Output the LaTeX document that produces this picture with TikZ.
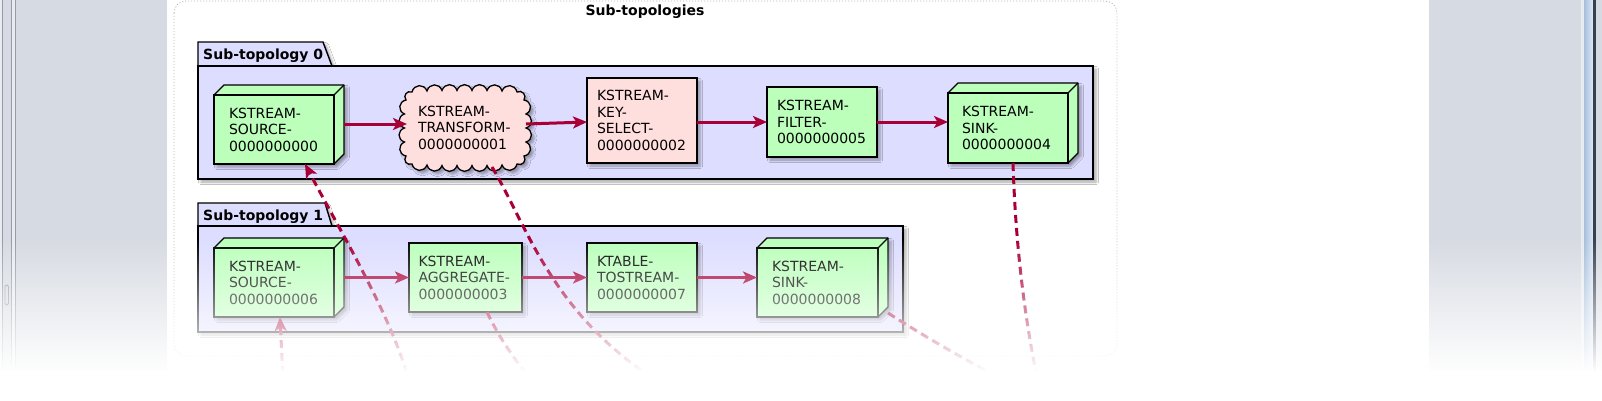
\documentclass[tikz,border=0pt]{standalone}
\usepackage{fontspec}
\setmainfont{DejaVu Sans}
\usetikzlibrary{arrows.meta,shadows.blur,fadings}

\definecolor{pkgfill}{RGB}{221,221,255}
\definecolor{nodegreen}{RGB}{187,255,187}
\definecolor{nodepink}{RGB}{255,222,222}
\definecolor{arrowred}{HTML}{A80036}
\definecolor{panelgray}{RGB}{214,218,226}
\definecolor{panelline}{RGB}{150,155,165}
\definecolor{panellight}{RGB}{232,235,240}
\definecolor{stripblueA}{RGB}{165,190,218}
\definecolor{stripblueB}{RGB}{222,234,247}
\definecolor{stripdark}{RGB}{55,65,80}
\definecolor{framegray}{RGB}{185,185,185}

\tikzfading[name=myfade, top color=transparent!100, middle color=transparent!30, bottom color=transparent!0]

\tikzset{
  myshadow/.style={blur shadow={shadow xshift=3pt, shadow yshift=-3pt, shadow blur radius=2.5pt, shadow opacity=35}},
  lbl/.style={font=\fontsize{14}{16.5}\selectfont, align=left, inner ysep=0pt, outer sep=0pt},
  greenrect/.style={lbl, draw=black, line width=1.3pt, fill=nodegreen, myshadow},
  pinkrect/.style={lbl, draw=black, line width=1.3pt, fill=nodepink, myshadow},
  frontface/.style={lbl, draw=black, line width=1.3pt, fill=nodegreen},
  face3d/.style={draw=black, line width=1.3pt, fill=nodegreen, line join=round, myshadow},
  cloudface/.style={draw=black, line width=1.3pt, fill=nodepink, myshadow},
  cbump/.style={bend left=72, looseness=1.4},
  pkgbox/.style={draw=black, line width=1.4pt, fill=pkgfill, myshadow},
  tabtext/.style={font=\bfseries\fontsize{14}{16}\selectfont, inner sep=0pt, anchor=base west},
  flow/.style={draw=arrowred, line width=3pt, -{Stealth[length=14pt,width=12pt,inset=3.5pt]}},
  dflow/.style={draw=arrowred, line width=3pt, dash pattern=on 8pt off 5pt},
  dflowin/.style={dflow, -{Stealth[length=14pt,width=12pt,inset=3.5pt]}},
  outerframe/.style={draw=framegray, line width=0.9pt, dash pattern=on 1pt off 2pt, rounded corners=12pt},
}
% back faces of a 3D box whose front face is (#1,#2)-(#3,#4), y downwards
\newcommand{\cubeback}[4]{%
  \path[face3d] (#1,#2) -- (#1+10,#2-10) -- (#3+10,#2-10) -- (#3+10,#4-10) -- (#3,#4) -- (#1,#4) -- cycle;}

\begin{document}
\begin{tikzpicture}[x=1pt,y=-1pt]
\useasboundingbox (0,0) rectangle (1602,400);

% ---------- background panels ----------
\fill[white] (0,0) rectangle (1602,400);
\fill[panelgray] (0,0) rectangle (167,400);
\fill[panellight] (0,0) rectangle (2,400);
\fill[panellight] (12,0) rectangle (15,400);
\draw[panelline, line width=1pt] (2.5,0) -- (2.5,400);
\draw[panelline, line width=1pt] (11.5,0) -- (11.5,400);
\draw[panelline, line width=1pt] (15.5,0) -- (15.5,400);
\draw[panelline, line width=0.8pt, rounded corners=1.5pt] (5,285) rectangle (8.5,305);
\fill[panelgray] (1429,0) rectangle (1602,400);
\fill[panellight] (1581,0) rectangle (1584,400);
\shade[left color=stripblueA, right color=stripblueB] (1584,0) rectangle (1593,400);
\fill[stripdark] (1593,0) rectangle (1595.5,400);

% ---------- outer frame and packages ----------
\path[outerframe] (174,1) rectangle (1117,356);
\path[pkgbox] (198,42) -- (323,42) -- (332,66) -- (198,66) -- cycle;
\path[pkgbox] (198,66) rectangle (1093,179);
\path[pkgbox] (198,203) -- (325,203) -- (332,226) -- (198,226) -- cycle;
\path[pkgbox] (198,226) rectangle (903,332);

\node[font=\bfseries\fontsize{14}{16}\selectfont, inner sep=0pt, anchor=base] (title) at (645,15) {Sub-topologies};
\node[tabtext] (p0) at (203,59) {Sub-topology 0};
\node[tabtext] (p1) at (203,220) {Sub-topology 1};

% ---------- back faces of 3D boxes, cloud ----------
\cubeback{214}{95}{334}{164}
\cubeback{948}{93}{1068}{163}
\cubeback{214}{248}{334}{317}
\cubeback{757}{248}{878}{317}
\path[cloudface] (412,92)
  \foreach \x/\y in {427/91, 442/90.5, 457/90.5, 472/90.5, 487/90.5, 502/91, 517/92,
                     524/100, 526/114, 526/128, 526/142, 524/156,
                     517/164, 502/165, 487/165.5, 472/165.5, 457/165.5, 442/165.5, 427/165, 412/164,
                     406/156, 404.5/142, 404.5/128, 404.5/114, 406/100, 412/92} { to[cbump] (\x,\y) } -- cycle;

% ---------- sub-topology 0 nodes ----------
\node[frontface, minimum width=120pt, minimum height=69pt, text width=90pt, inner xsep=15pt] (s0) at (274,129.5) {KSTREAM-\\SOURCE-\\0000000000};
\node[lbl, minimum width=121pt, minimum height=75pt, text width=95pt, inner xsep=13pt] (t1) at (465.5,127.5) {KSTREAM-\\TRANSFORM-\\0000000001};
\node[pinkrect, minimum width=110pt, minimum height=85pt, text width=90pt, inner xsep=10pt] (k2) at (642,120.5) {KSTREAM-\\KEY-\\SELECT-\\0000000002};
\node[greenrect, minimum width=110pt, minimum height=70pt, text width=90pt, inner xsep=10pt] (f5) at (822,122) {KSTREAM-\\FILTER-\\0000000005};
\node[frontface, minimum width=120pt, minimum height=70pt, text width=92pt, inner xsep=14pt] (s4) at (1008,128) {KSTREAM-\\SINK-\\0000000004};

% ---------- sub-topology 1 nodes ----------
\node[frontface, minimum width=120pt, minimum height=69pt, text width=90pt, inner xsep=15pt] (s6) at (274,282.5) {KSTREAM-\\SOURCE-\\0000000006};
\node[greenrect, minimum width=113pt, minimum height=69pt, text width=94pt, inner xsep=9.5pt] (a3) at (465.5,277.5) {KSTREAM-\\AGGREGATE-\\0000000003};
\node[greenrect, minimum width=110pt, minimum height=69pt, text width=90pt, inner xsep=10pt] (ts7) at (642,277.5) {KTABLE-\\TOSTREAM-\\0000000007};
\node[frontface, minimum width=121pt, minimum height=69pt, text width=91pt, inner xsep=15pt] (s8) at (817.5,282.5) {KSTREAM-\\SINK-\\0000000008};

\foreach \n in {s0,s4,s6,s8} {
  \draw[line width=1.3pt] (\n.north east) -- ++(10,-10);
}

% ---------- solid flows ----------
\draw[flow] ([shift={(10,-5.5)}]s0.east) -- ([shift={(2,-3.5)}]t1.west);
\draw[flow] ([shift={(0,-3.5)}]t1.east) -- ([shift={(0,1.5)}]k2.west);
\draw[flow] ([shift={(0,1.5)}]k2.east) -- (f5.west);
\draw[flow] (f5.east) -- ([shift={(0,-6)}]s4.west);
\draw[flow] ([shift={(10,-5)}]s6.east) -- (a3.west);
\draw[flow] (a3.east) -- (ts7.west);
\draw[flow] (ts7.east) -- ([shift={(0,-5)}]s8.west);

% ---------- dashed flows to/from outside ----------
\coordinate (e1) at (413,398);
\coordinate (e2) at (690,400);
\coordinate (e3) at (548,400);
\coordinate (e4) at (1042,400);
\coordinate (e5) at (1045,400);
\coordinate (e6) at (284,400);
\draw[dflowin] (e1) .. controls (400,330) and (345,240) .. ([shift={(31,0)}]s0.south);
\draw[dflow] ([shift={(26.5,2)}]t1.south) .. controls (530,230) and (555,330) .. (e2);
\draw[dflow] ([shift={(21.5,0)}]a3.south) .. controls (500,340) and (520,368) .. (e3);
\draw[dflow] ([shift={(5,0)}]s4.south) .. controls (1016,260) and (1028,340) .. (e4);
\draw[dflow] ([shift={(10,-4)}]s8.south east) .. controls (930,340) and (990,375) .. (e5);
\draw[dflowin] (e6) -- ([shift={(6,0)}]s6.south);

% ---------- bottom fade ----------
\fill[white, path fading=myfade] (-2,238) rectangle (1604,372);
\fill[white] (-2,371) rectangle (1604,402);
\end{tikzpicture}
\end{document}
